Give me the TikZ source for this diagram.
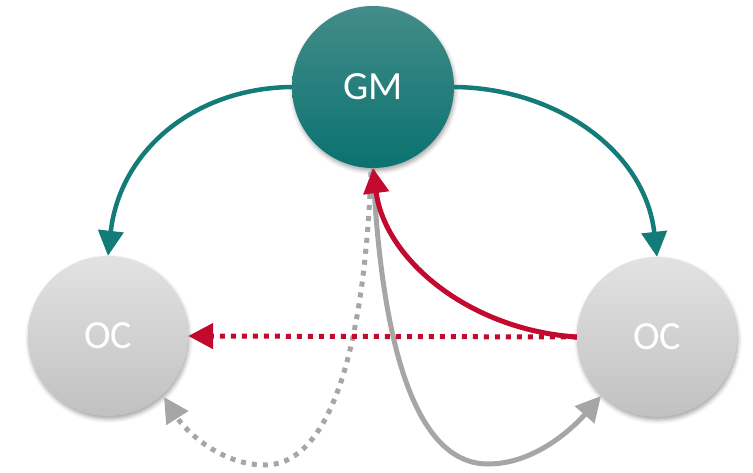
\documentclass[tikz,border=0pt]{standalone}
\usepackage{fontspec}
\setmainfont{Carlito}
\usetikzlibrary{arrows.meta,shadows.blur}
\definecolor{tealtop}{HTML}{438C89}
\definecolor{tealbot}{HTML}{0A7270}
\definecolor{tealline}{HTML}{137B78}
\definecolor{octop}{HTML}{E2E2E2}
\definecolor{ocbot}{HTML}{C1C1C1}
\definecolor{redline}{HTML}{C10A2E}
\definecolor{grayline}{HTML}{A6A6A6}
\tikzset{
  circ/.style={circle, inner sep=0pt, text=white,
    font=\fontsize{40}{48}\selectfont,
    blur shadow={shadow xshift=1pt, shadow yshift=-3pt, shadow blur radius=4pt, shadow opacity=35}},
  gmnode/.style={circ, minimum size=162pt, top color=tealtop, bottom color=tealbot},
  ocnode/.style={circ, minimum size=160pt, top color=octop, bottom color=ocbot},
  tip/.style={-{Triangle[length=25pt,width=25pt]}},
  tealarrow/.style={tip, draw=tealline, line width=4.5pt},
  redarrow/.style={tip, draw=redline, line width=5pt},
  reddotted/.style={tip, draw=redline, line width=5pt, dash pattern=on 5pt off 6pt},
  grayarrow/.style={tip, draw=grayline, line width=5pt},
  graydotted/.style={tip, draw=grayline, line width=5pt, dash pattern=on 5pt off 6pt},
}
\begin{document}
\begin{tikzpicture}[x=1pt,y=-1pt]
\useasboundingbox (0,0) rectangle (753,472);
\node[gmnode] (gm) at (373,87) {GM};
\node[ocnode] (ocl) at (108,336) {OC};
\node[ocnode] (ocr) at (657,337) {OC};
\coordinate (gs1) at (373,168);
\coordinate (gs2) at (371,172);
\coordinate (gbot) at (488,464);
\coordinate (gdbot) at (265,465);
\coordinate (ocrin) at (601,396);
\coordinate (oclin) at (164,397);
% teal arcs
\draw[tealarrow] (gm.west) .. controls (195,88) and (120,150) .. (ocl.north);
\draw[tealarrow] (gm.east) .. controls (555,88) and (645,150) .. (ocr.north);
% gray solid
\draw[grayarrow] (gs1) .. controls (382,360) and (420,464) .. (gbot) .. controls (540,464) and (580,420) .. (ocrin);
% gray dotted
\draw[graydotted] (gs2) .. controls (363,380) and (320,465) .. (gdbot) .. controls (220,465) and (185,430) .. (oclin);
% red
\draw[redarrow] (ocr.west) .. controls (470,330) and (385,260) .. (gm.south);
\draw[reddotted] (ocr.west) -- (ocl.east);
\end{tikzpicture}
\end{document}
